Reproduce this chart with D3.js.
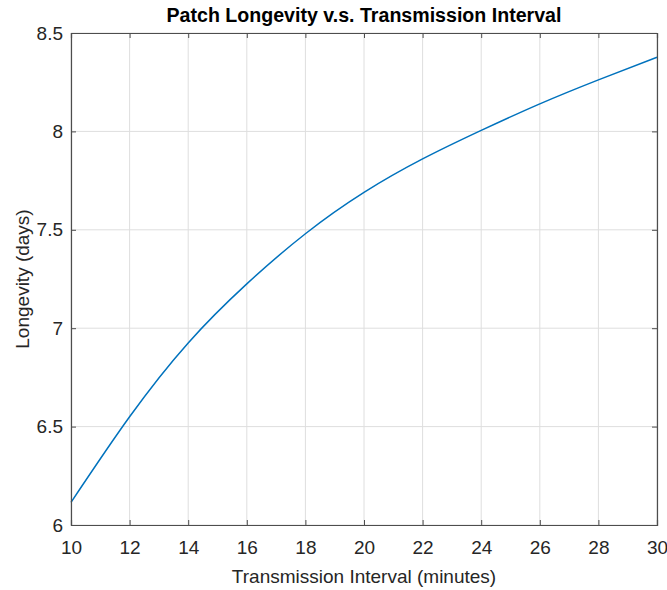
<!DOCTYPE html>
<html lang="en">
<head>
    <meta charset="UTF-8">
    <script src="https://cdnjs.cloudflare.com/ajax/libs/d3/7.8.5/d3.min.js"></script>
    <style>
        body { margin: 0; background: #fff; }
        text { font-family: "Liberation Sans", Arial, sans-serif; }
    </style>
</head>
<body>
    <script>
        // values (every 2 minutes, at the grid lines)
        var intervals = [10, 12, 14, 16, 18, 20, 22, 24, 26, 28, 30];
        var longevity = [6.115, 6.55, 6.925, 7.225, 7.48, 7.69, 7.86, 8.005, 8.14, 8.262, 8.377];
        var xTicks = [10, 12, 14, 16, 18, 20, 22, 24, 26, 28, 30];
        var yTicks = [6, 6.5, 7, 7.5, 8, 8.5];

        var data = intervals.map((d, i) => ({x: d, y: longevity[i]}));

        let svgwidth = 667;
        let svgheight = 590;
        let plotL = 71, plotR = 657, plotT = 33, plotB = 525;
        let fs = "19px";

        let svg = d3.select("body").append("svg")
            .attr("width", svgwidth)
            .attr("height", svgheight);

        let x = d3.scaleLinear().domain([10, 30]).range([plotL, plotR]);
        let y = d3.scaleLinear().domain([6, 8.5]).range([plotB, plotT]);

        // grid
        svg.selectAll(".gx").data(xTicks).enter().append("line")
            .attr("x1", d => x(d)).attr("x2", d => x(d))
            .attr("y1", plotT).attr("y2", plotB)
            .attr("stroke", "#dedede").attr("stroke-width", 1);
        svg.selectAll(".gy").data(yTicks).enter().append("line")
            .attr("x1", plotL).attr("x2", plotR)
            .attr("y1", d => y(d)).attr("y2", d => y(d))
            .attr("stroke", "#dedede").attr("stroke-width", 1);

        // curve
        let line = d3.line().x(d => x(d.x)).y(d => y(d.y)).curve(d3.curveNatural);
        svg.append("path").datum(data)
            .attr("d", line)
            .attr("fill", "none")
            .attr("stroke", "#0072BD")
            .attr("stroke-width", 1.5);

        // axes, MATLAB style: ticks inside, box around
        let fmt = d => d3.format("")(d);
        svg.append("g").attr("transform", "translate(0," + plotB + ")")
            .call(d3.axisBottom(x).tickValues(xTicks).tickSize(-5).tickPadding(16).tickFormat(fmt));
        svg.append("g").attr("transform", "translate(0," + plotT + ")")
            .call(d3.axisTop(x).tickValues(xTicks).tickSize(-5).tickFormat(""));
        svg.append("g").attr("transform", "translate(" + plotL + ",0)")
            .call(d3.axisLeft(y).tickValues(yTicks).tickSize(-5).tickPadding(8).tickFormat(fmt));
        svg.append("g").attr("transform", "translate(" + plotR + ",0)")
            .call(d3.axisRight(y).tickValues(yTicks).tickSize(-5).tickFormat(""));

        svg.selectAll(".domain").attr("stroke", "#4d4d4d").attr("stroke-width", 1.2);
        svg.selectAll(".tick line").attr("stroke", "#4d4d4d");
        svg.selectAll(".tick text").attr("font-size", fs).attr("fill", "#262626")
            .style("font-family", "'Liberation Sans', Arial, sans-serif");

        svg.append("text")
            .attr("x", (plotL + plotR) / 2).attr("y", 22)
            .attr("text-anchor", "middle")
            .attr("font-size", "19.6px").attr("font-weight", "bold")
            .attr("fill", "#000")
            .text("Patch Longevity v.s. Transmission Interval");

        svg.append("text")
            .attr("x", (plotL + plotR) / 2).attr("y", 583)
            .attr("text-anchor", "middle")
            .attr("font-size", fs).attr("fill", "#262626")
            .text("Transmission Interval (minutes)");

        svg.append("text")
            .attr("transform", "translate(29," + (plotT + plotB) / 2 + ") rotate(-90)")
            .attr("text-anchor", "middle")
            .attr("font-size", fs).attr("fill", "#262626")
            .text("Longevity (days)");
    </script>
</body>
</html>
